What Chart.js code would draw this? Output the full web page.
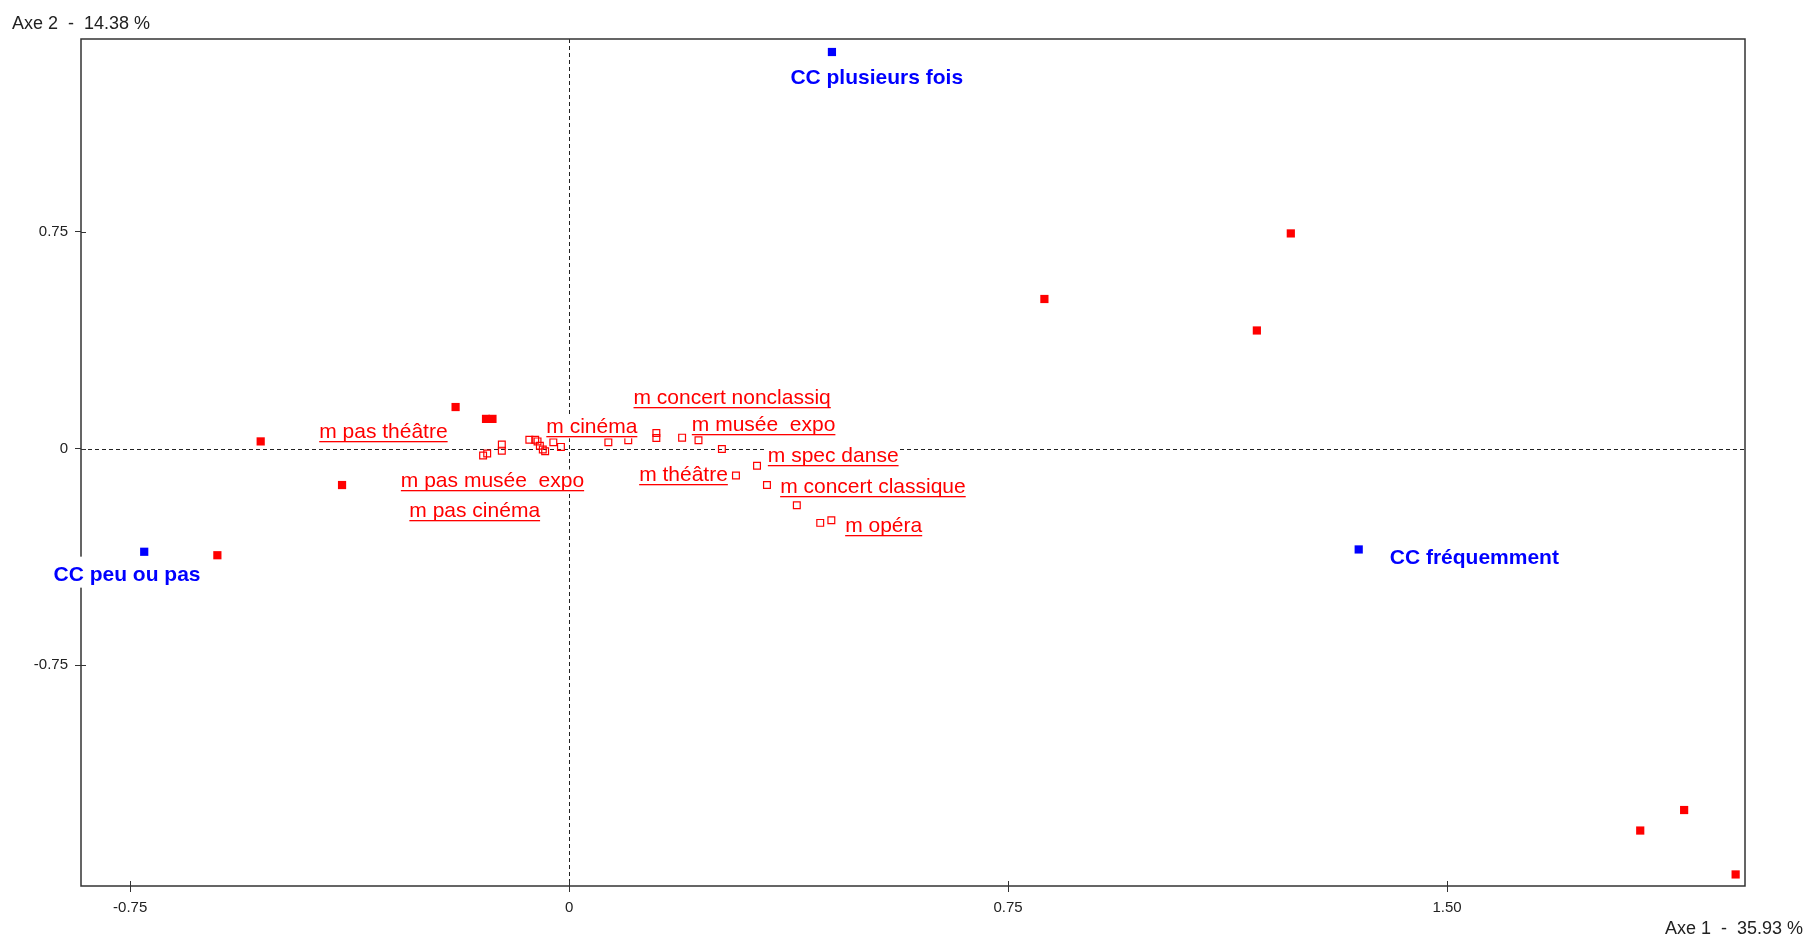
<!DOCTYPE html>
<html>
<head>
<meta charset="utf-8">
<script src="https://cdn.jsdelivr.net/npm/chart.js@4"></script>
<style>
  html, body { margin: 0; padding: 0; background: #fff; }
  #wrap { width: 1809px; height: 938px; }
</style>
</head>
<body>
<div id="wrap"><canvas id="acm"></canvas></div>
<script>
// axis ticks
const xTickValues = [-0.75, 0, 0.75, 1.5];
const xTickLabels = ['-0.75', '0', '0.75', '1.50'];
const yTickValues = [-0.75, 0, 0.75];
const yTickLabels = ['-0.75', '0', '0.75'];

// active categories (blue)
const ccNames = ['CC plusieurs fois', 'CC peu ou pas', 'CC fréquemment'];
const ccX = [0.449, -0.726, 1.349];
const ccY = [1.373, -0.357, -0.349];
const ccLabelX = [0.378, -0.881, 1.402];
const ccLabelY = [1.263, -0.457, -0.399];

// filled red points
const redX = [-0.601, -0.527, -0.388, -0.194, -0.142, -0.131, 0.812, 1.175, 1.233, 1.830, 1.905, 1.993];
const redY = [-0.369, 0.025, -0.126, 0.144, 0.103, 0.103, 0.518, 0.409, 0.745, -1.322, -1.251, -1.474];

// supplementary modalities (hollow squares)
const modX = [-0.147, -0.140, -0.115, -0.115, -0.068, -0.058, -0.054, -0.050, -0.045, -0.041, -0.027, -0.014,
              0.067, 0.101, 0.149, 0.149, 0.193, 0.221, 0.261, 0.321, 0.285, 0.338, 0.389, 0.429, 0.448];
const modY = [-0.024, -0.017, 0.014, -0.007, 0.031, 0.031, 0.025, 0.010, -0.003, -0.009, 0.022, 0.006,
              0.022, 0.029, 0.054, 0.037, 0.038, 0.029, -0.001, -0.059, -0.093, -0.126, -0.196, -0.257, -0.248];

const modLabels = ['m pas théâtre', 'm pas musée  expo', 'm pas cinéma', 'm cinéma', 'm concert nonclassiq',
                   'm musée  expo', 'm spec danse', 'm théâtre', 'm concert classique', 'm opéra'];
const modLabelX = [-0.427, -0.2875, -0.273, -0.039, 0.110, 0.2096, 0.3395, 0.1196, 0.3605, 0.4716];
const modLabelY = [0.038, -0.134, -0.238, 0.053, 0.155, 0.062, -0.047, -0.112, -0.155, -0.288];

const toPoints = (xs, ys) => xs.map((v, i) => ({ x: v, y: ys[i] }));

const FONT = '"Liberation Sans", Arial, sans-serif';

const factorPlugin = {
  id: 'factorPlane',
  beforeDatasetsDraw(chart) {
    const { ctx, chartArea: a, scales: { x, y } } = chart;
    ctx.save();
    ctx.strokeStyle = '#222';
    ctx.lineWidth = 1;
    ctx.setLineDash([4, 3]);
    const x0 = Math.round(x.getPixelForValue(0)) + 0.5;
    const y0 = Math.round(y.getPixelForValue(0)) + 0.5;
    ctx.beginPath();
    ctx.moveTo(x0, a.top); ctx.lineTo(x0, a.bottom);
    ctx.moveTo(a.left, y0); ctx.lineTo(a.right, y0);
    ctx.stroke();
    ctx.setLineDash([]);

    // frame
    ctx.strokeStyle = '#333';
    ctx.lineWidth = 1.5;
    ctx.strokeRect(a.left, a.top, a.right - a.left, a.bottom - a.top);

    // tick marks poking inside the frame
    ctx.lineWidth = 1;
    ctx.beginPath();
    xTickValues.forEach(v => {
      const px = Math.round(x.getPixelForValue(v)) + 0.5;
      ctx.moveTo(px, a.bottom); ctx.lineTo(px, a.bottom - 5);
    });
    yTickValues.forEach(v => {
      const py = Math.round(y.getPixelForValue(v)) + 0.5;
      ctx.moveTo(a.left, py); ctx.lineTo(a.left + 5, py);
    });
    ctx.stroke();
    ctx.restore();
  },
  afterDatasetsDraw(chart) {
    const { ctx, scales: { x, y } } = chart;
    ctx.save();
    ctx.textBaseline = 'alphabetic';
    ctx.textAlign = 'left';

    // red modality labels, underlined, on white boxes
    ctx.font = '21px ' + FONT;
    modLabels.forEach((t, i) => {
      const lx = x.getPixelForValue(modLabelX[i]);
      const by = y.getPixelForValue(modLabelY[i]);
      const w = ctx.measureText(t).width;
      ctx.fillStyle = '#fff';
      ctx.fillRect(lx - 1, by - 18, w + 2, 23);
      ctx.fillStyle = '#ff0000';
      ctx.fillText(t, lx, by);
      ctx.fillRect(lx, Math.round(by) + 3, w, 1.3);
    });

    // blue category labels
    ctx.font = 'bold 21px ' + FONT;
    ccNames.forEach((t, i) => {
      const lx = x.getPixelForValue(ccLabelX[i]);
      const by = y.getPixelForValue(ccLabelY[i]);
      const w = ctx.measureText(t).width;
      ctx.fillStyle = '#fff';
      ctx.fillRect(lx - 2, by - 24, w + 4, 31);
      ctx.fillStyle = '#0000ff';
      ctx.fillText(t, lx, by);
    });
    ctx.restore();
  },
  afterDraw(chart) {
    const { ctx, width, height } = chart;
    ctx.save();
    ctx.fillStyle = '#222';
    ctx.font = '18px ' + FONT;
    ctx.textBaseline = 'alphabetic';
    ctx.textAlign = 'left';
    ctx.fillText('Axe 2  -  14.38 %', 12, 29);
    ctx.textAlign = 'right';
    ctx.fillText('Axe 1  -  35.93 %', width - 6, height - 4);
    ctx.restore();
  }
};

new Chart(document.getElementById('acm'), {
  type: 'scatter',
  data: {
    datasets: [
      {
        label: 'modalités',
        data: toPoints(modX, modY),
        pointStyle: 'rect',
        pointRadius: 4.8,
        backgroundColor: 'rgba(0,0,0,0)',
        borderColor: '#ff0000',
        borderWidth: 1.2
      },
      {
        label: 'points',
        data: toPoints(redX, redY),
        pointStyle: 'rect',
        pointRadius: 5.8,
        backgroundColor: '#ff0000',
        borderWidth: 0
      },
      {
        label: 'CC',
        data: toPoints(ccX, ccY),
        pointStyle: 'rect',
        pointRadius: 5.8,
        backgroundColor: '#0000ff',
        borderWidth: 0
      }
    ]
  },
  options: {
    responsive: true,
    maintainAspectRatio: false,
    animation: false,
    events: [],
    layout: { padding: { left: 0, top: 39, right: 64, bottom: 0 } },
    plugins: { legend: { display: false }, tooltip: { enabled: false } },
    scales: {
      x: {
        type: 'linear',
        min: -0.834,
        max: 2.009,
        afterBuildTicks: s => { s.ticks = xTickValues.map(v => ({ value: v })); },
        afterFit: s => { s.height = 52; },
        border: { display: false },
        grid: { drawOnChartArea: false, tickLength: 6, tickColor: '#333' },
        ticks: {
          padding: 7,
          color: '#222',
          font: { family: FONT, size: 15 },
          callback: (v, i) => xTickLabels[i]
        }
      },
      y: {
        type: 'linear',
        min: -1.514,
        max: 1.418,
        afterBuildTicks: s => { s.ticks = yTickValues.map(v => ({ value: v })); },
        afterFit: s => { s.width = 81; },
        border: { display: false },
        grid: { drawOnChartArea: false, tickLength: 6, tickColor: '#333' },
        ticks: {
          padding: 7,
          color: '#222',
          font: { family: FONT, size: 15 },
          callback: (v, i) => yTickLabels[i]
        }
      }
    }
  },
  plugins: [factorPlugin]
});
</script>
</body>
</html>
